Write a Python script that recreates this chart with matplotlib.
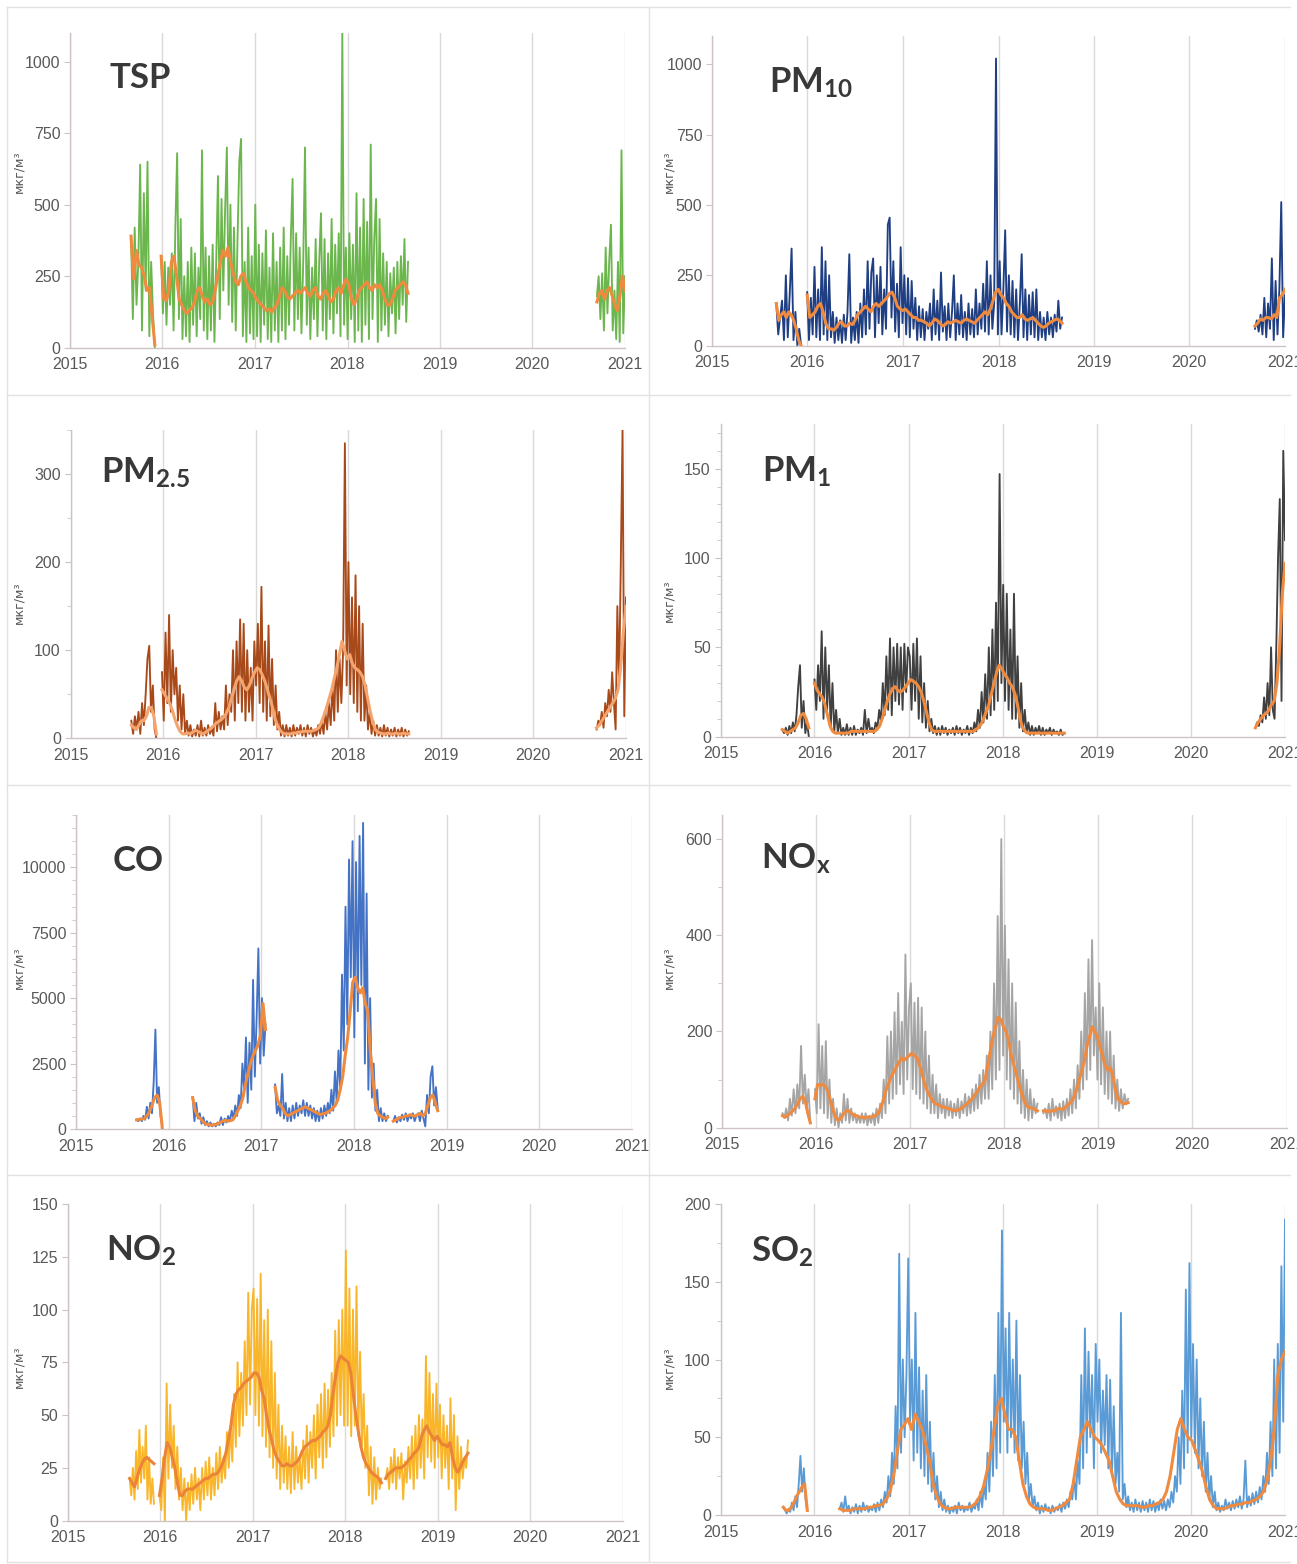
import matplotlib

matplotlib.use("Agg")
import matplotlib.pyplot as plt  # noqa: E402
import matplotlib.dates as mdates  # noqa: E402
import pandas as pd  # noqa: E402
from matplotlib.lines import Line2D  # noqa: E402
from matplotlib.ticker import MultipleLocator, NullLocator  # noqa: E402

W, H = 1297, 1564

# ---------------------------------------------------------------- data
# each series is split in segments (gaps in the record); raw values are
# ~weekly readings, the *_AVG lists the ~10-day moving average (orange)

TSP_DATES = [("2015-08-30", "2015-12-02"), ("2015-12-27", "2018-08-28"),
             ("2020-09-12", "2021-01-01")]
TSP_RAW_1 = [390, 100, 420, 150, 300, 640, 60, 540, 200, 650, 40, 300, 120, 0]
TSP_RAW_2 = [320, 120, 300, 80, 280, 150, 330, 60, 420, 680, 100, 450, 30, 250, 40, 300,
             20, 350, 80, 330, 40, 280, 100, 690, 60, 350, 30, 320, 60, 360, 20, 300, 600,
             100, 520, 200, 480, 700, 150, 500, 90, 420, 60, 380, 650, 730, 40, 300, 20,
             420, 50, 320, 30,
             500, 40, 360, 20, 330, 80, 410, 30, 280, 20, 400, 60, 300, 20, 350, 60, 420,
             30, 320, 80, 380, 590, 60, 400, 100, 350, 50, 300, 700, 80, 350, 30, 280, 100,
             380, 40, 300, 470, 60, 380, 30, 330, 100, 450, 50, 360, 120, 400, 40, 1100, 80,
             350, 30,
             400, 100, 360, 20, 540, 60, 420, 20, 520, 80, 440, 30, 710, 100, 380, 520, 20,
             450, 60, 330, 80, 300, 40, 260, 120, 280, 50, 300, 100, 320, 150, 380, 90, 300]
TSP_RAW_3 = [180, 250, 100, 260, 60, 350, 120, 300, 430, 60, 200, 30, 300, 20, 690, 50, 250]
TSP_AVG_1 = [390, 240, 340, 290, 280, 250, 200, 210, 110, 10]
TSP_AVG_2 = [320, 170, 165, 200, 300, 320, 250, 170, 150, 130, 120, 130, 140, 160, 200, 210,
             180, 160, 170, 150, 160, 200, 250, 300, 340, 320, 350, 300, 260, 230, 220, 250,
             260, 230, 210, 200, 190,
             170, 160, 150, 140, 130, 135, 125, 140, 150, 180, 210, 200, 180, 170, 180, 190,
             200, 190, 200, 210, 190, 180, 200, 210, 180, 170, 190, 200, 180, 160, 170, 200,
             210, 190, 220, 240,
             220, 170, 150, 170, 200, 210, 220, 230, 210, 200, 220, 210, 220, 200, 170, 150,
             150, 170, 200, 210, 220, 230, 220, 190]
TSP_AVG_3 = [160, 190, 200, 170, 200, 210, 180, 150, 130, 180, 250, 200]

PM10_DATES = [("2015-09-04", "2015-12-08"), ("2015-12-31", "2018-09-01"),
              ("2020-09-08", "2021-01-01")]
PM10_RAW_1 = [150, 40, 100, 160, 20, 250, 30, 180, 345, 20, 120, 0, 60, 0]
PM10_RAW_2 = [190, 20, 170, 40, 280, 30, 200, 20, 350, 40, 300, 20, 250, 30, 120, 10, 100, 20,
              90, 10, 110, 20, 120, 325, 10, 100, 20, 120, 10, 150, 30, 200, 40, 300, 60, 260,
              310, 30, 250, 80, 280, 40, 200, 60, 430, 455, 100, 300, 50, 220, 30, 350, 80,
              250, 40, 240, 30, 230, 60, 170, 20, 140, 30, 130, 20, 120, 60, 150, 20, 200, 40,
              160, 20, 260, 50, 140, 20, 150, 30, 120, 250, 20, 150, 40, 180, 30, 120, 20, 150,
              40, 130, 30, 200, 40, 150, 60, 220, 50, 300, 40, 250, 60, 150, 1020, 40,
              300, 40, 200, 410, 50, 250, 40, 230, 30, 200, 20, 150, 325, 30, 200, 20, 180, 40,
              190, 30, 200, 20, 120, 30, 100, 20, 120, 40, 100, 30, 110, 50, 160, 60, 100]
PM10_RAW_3 = [60, 90, 50, 110, 40, 170, 30, 150, 60, 310, 20, 230, 40, 200, 510, 30, 180]
PM10_AVG_1 = [150, 90, 110, 120, 100, 120, 110, 90, 60, 20, 0]
PM10_AVG_2 = [180, 100, 110, 120, 140, 150, 120, 80, 60, 60, 55, 65, 80, 85, 70, 70, 80, 75,
              90, 110, 120, 130, 140, 130, 120, 140, 150, 140, 150, 160, 170, 185, 190, 170,
              140, 130, 125,
              130, 120, 110, 100, 100, 90, 90, 85, 80, 70, 80, 95, 90, 80, 70, 75, 85, 80, 85,
              90, 85, 80, 90, 95, 90, 85, 80, 90, 100, 110, 120, 110, 130, 160, 190, 200,
              180, 170, 150, 140, 120, 110, 100, 100, 110, 95, 90, 95, 100, 90, 80, 70, 65, 70,
              80, 85, 90, 95, 90, 80]
PM10_AVG_3 = [70, 80, 95, 90, 100, 100, 95, 110, 100, 170, 180, 200]

PM25_DATES = [("2015-08-29", "2015-12-06"), ("2015-12-28", "2018-08-28"),
              ("2020-09-07", "2021-01-01")]
PM25_RAW_1 = [20, 5, 25, 10, 30, 5, 40, 15, 50, 90, 105, 30, 60, 10, 0]
PM25_RAW_2 = [75, 20, 120, 40, 140, 30, 100, 50, 80, 20, 60, 10, 50, 5, 20, 3, 15, 2, 10, 3,
              15, 2, 20, 3, 12, 3, 15, 5, 12, 3, 40, 8, 30, 10, 25, 10, 60, 15, 50, 30, 100,
              20, 110, 40, 135, 30, 130, 20, 100, 30, 80, 20, 110,
              60, 130, 40, 172, 30, 110, 20, 128, 25, 90, 15, 60, 10, 30, 3, 15, 2, 15, 3, 12,
              2, 15, 3, 12, 5, 15, 3, 12, 2, 15, 5, 12, 2, 10, 3, 15, 5, 20, 5, 30, 10, 40, 15,
              60, 20, 100, 30, 90, 40, 100, 335, 60,
              200, 50, 160, 40, 185, 30, 150, 20, 130, 20, 60, 10, 30, 5, 20, 3, 15, 3, 12, 2,
              15, 3, 12, 2, 10, 3, 12, 2, 10, 3, 12, 2, 10, 3, 8]
PM25_RAW_3 = [10, 20, 15, 30, 12, 40, 25, 55, 30, 75, 40, 10, 150, 60, 200, 350, 25, 160]
PM25_AVG_1 = [15, 12, 10, 15, 20, 20, 25, 35, 35, 25, 5]
PM25_AVG_2 = [55, 50, 45, 40, 32, 22, 14, 8, 5, 5, 6, 5, 7, 9, 8, 6, 5, 7, 9, 11, 14, 17, 19,
              21, 24, 28, 35, 45, 55, 65, 70, 65, 58, 55, 60, 68, 75,
              80, 78, 72, 65, 55, 45, 35, 22, 14, 9, 6, 5, 5, 5, 6, 6, 7, 7, 8, 8, 8, 8, 9, 10,
              12, 18, 26, 35, 45, 55, 68, 80, 95, 110, 100, 90,
              95, 85, 80, 78, 75, 70, 60, 45, 30, 18, 10, 7, 6, 5, 5, 6, 5, 5, 6, 5, 5, 6, 5, 5]
PM25_AVG_3 = [12, 15, 20, 25, 30, 35, 40, 45, 55, 80, 120, 150]

PM1_DATES = [("2015-08-29", "2015-12-10"), ("2016-01-01", "2018-08-28"),
             ("2020-09-08", "2021-01-01")]
PM1_RAW_1 = [4, 2, 5, 1, 6, 2, 8, 3, 12, 28, 40, 5, 20, 2, 8, 0]
PM1_RAW_2 = [32, 15, 40, 20, 59, 10, 50, 15, 40, 5, 30, 3, 15, 2, 10, 1, 5, 1, 7, 1, 5, 1, 6,
             1, 4, 2, 5, 1, 15, 2, 10, 3, 5, 2, 8, 5, 15, 8, 30, 12, 45, 15, 55, 12, 50, 20,
             52, 18, 50, 15, 52, 25, 50,
             45, 15, 52, 20, 55, 10, 45, 8, 30, 5, 20, 3, 10, 2, 6, 1, 5, 1, 6, 2, 5, 1, 4, 2,
             5, 1, 6, 2, 5, 1, 4, 2, 6, 1, 5, 2, 8, 3, 15, 5, 25, 8, 35, 10, 50, 12, 60, 15,
             75, 20, 147, 30,
             85, 20, 80, 15, 60, 10, 80, 10, 45, 5, 30, 3, 15, 2, 8, 1, 6, 1, 5, 2, 6, 1, 5, 1,
             4, 2, 5, 1, 4, 2, 3, 1, 4, 1, 2]
PM1_RAW_3 = [5, 8, 6, 12, 8, 22, 10, 30, 12, 50, 15, 10, 50, 100, 133, 20, 160, 110]
PM1_AVG_1 = [4, 3, 2, 3, 4, 5, 8, 12, 13, 10, 5]
PM1_AVG_2 = [30, 26, 24, 22, 18, 12, 6, 3, 2, 2, 2, 2, 2, 2, 3, 3, 3, 3, 3, 3, 3, 3, 3, 3, 4,
             6, 10, 15, 20, 24, 27, 28, 26, 25, 26, 28, 30,
             32, 31, 30, 28, 25, 20, 14, 8, 4, 3, 3, 3, 3, 3, 3, 3, 3, 3, 3, 3, 3, 3, 3, 3, 3,
             4, 5, 7, 10, 14, 18, 24, 30, 36, 40, 38,
             35, 33, 30, 28, 24, 18, 10, 5, 3, 2, 2, 2, 2, 2, 2, 2, 2, 2, 2, 2, 2, 2, 2, 2]
PM1_AVG_3 = [5, 8, 10, 12, 13, 15, 18, 20, 30, 50, 80, 97]

CO_DATES = [("2015-08-28", "2015-12-07"), ("2016-04-05", "2017-01-17"),
            ("2017-02-24", "2018-05-14"), ("2018-06-05", "2018-11-27")]
CO_RAW_1 = [350, 300, 400, 300, 500, 350, 850, 400, 1000, 600, 1800, 3800, 1000, 1600, 500, 200]
CO_RAW_2 = [1200, 300, 1000, 400, 600, 200, 450, 150, 300, 100, 250, 100, 200, 100, 250, 150,
            450, 150, 400, 250, 500, 300, 700, 400, 900, 500, 1300, 800, 2500, 1500, 3500, 1000,
            3300, 1500, 5700, 2000, 4200, 6900, 2500, 5000, 2800, 4000]
CO_RAW_3 = [1700, 600, 900, 500, 2100, 400, 1000, 300, 800, 300, 900, 400, 1000, 500, 900, 600,
            1100, 500, 1000, 500, 900, 400, 800, 300, 700, 300, 800, 400, 900, 500, 1000, 600,
            1500, 700, 2200, 1000, 3000, 1500, 5900, 3000, 8500, 4000, 10300, 5800, 11000,
            3500, 10200, 4500, 11200, 5500, 11700, 2500, 9000, 1500, 5000, 1200, 2500, 700,
            1500, 300, 800, 300, 600, 300, 500]
CO_RAW_4 = [300, 500, 250, 450, 300, 550, 350, 600, 300, 550, 400, 600, 300, 500, 600, 300, 700,
            400, 100, 1300, 600, 2000, 2400, 900, 1600, 800]
CO_AVG_1 = [350, 370, 380, 400, 500, 650, 900, 1200, 1300, 1000, 50]
CO_AVG_2 = [1200, 700, 500, 400, 300, 200, 180, 150, 150, 170, 200, 250, 300, 330, 300, 320,
            350, 500, 700, 900, 1200, 1700, 2100, 2500, 2800, 3000, 3200, 3600, 4800, 3800]
CO_AVG_3 = [1600, 1100, 900, 800, 600, 500, 550, 600, 650, 700, 750, 800, 850, 800, 750, 700,
            650, 600, 550, 580, 600, 650, 700, 800, 900, 1100, 1500, 2000, 2800, 3500, 4500,
            5600, 5800, 5400, 5200, 5400, 4800, 4500, 3000, 2000, 1000, 600, 500, 450, 400, 450]
CO_AVG_4 = [300, 350, 400, 450, 450, 500, 500, 550, 500, 500, 550, 600, 500, 600, 900, 1200,
            1300, 1000, 700]

NOX_DATES = [("2015-08-24", "2015-12-10"), ("2015-12-28", "2018-05-10"),
             ("2018-06-02", "2019-04-27")]
NOX_RAW_1 = [30, 20, 40, 15, 60, 25, 80, 30, 90, 40, 170, 50, 110, 40, 80, 10]
NOX_RAW_2 = [80, 30, 215, 40, 170, 30, 180, 20, 100, 10, 60, 5, 40, 0, 30, 10, 70, 15, 60, 10,
             40, 15, 30, 10, 25, 10, 30, 10, 30, 5, 25, 10, 30, 5, 40, 10, 50, 20, 100, 30, 190,
             50, 200, 60, 240, 70, 280, 90, 220, 70, 360, 100, 250,
             300, 80, 260, 70, 270, 60, 250, 50, 200, 40, 150, 30, 110, 30, 90, 20, 70, 30, 60,
             20, 60, 25, 55, 20, 50, 25, 60, 20, 55, 30, 70, 25, 65, 30, 80, 35, 90, 40, 110,
             50, 120, 60, 150, 60, 200, 80, 300, 100, 440, 120, 600, 150,
             420, 100, 350, 80, 300, 60, 260, 50, 180, 30, 120, 20, 100, 15, 80, 20, 60, 30, 50]
NOX_RAW_3 = [30, 40, 20, 50, 15, 60, 25, 45, 20, 50, 15, 55, 20, 60, 25, 80, 30, 100, 40, 130,
             60, 200, 80, 280, 100, 350, 120, 390, 150, 250, 100, 300, 90, 250, 70, 200, 60,
             200, 50, 150, 40, 100, 35, 80, 40, 70, 50, 60]
NOX_AVG_1 = [25, 22, 25, 30, 35, 40, 50, 60, 65, 55, 30, 10]
NOX_AVG_2 = [60, 90, 88, 90, 85, 75, 55, 35, 20, 15, 20, 30, 35, 35, 30, 25, 25, 22, 22, 20,
             22, 22, 23, 25, 30, 40, 55, 75, 90, 105, 115, 125, 135, 145, 140, 145, 150,
             155, 150, 145, 130, 110, 90, 75, 65, 55, 50, 48, 45, 43, 42, 40, 38, 36, 35, 38,
             40, 45, 50, 55, 60, 68, 75, 85, 90, 100, 130, 160, 190, 210, 230, 225, 210,
             200, 180, 150, 130, 110, 90, 70, 55, 45, 42, 40, 38, 35]
NOX_AVG_3 = [35, 35, 33, 35, 35, 38, 40, 38, 40, 45, 50, 55, 65, 80, 100, 120, 140, 170, 190,
             210, 200, 190, 170, 150, 130, 120, 125, 110, 80, 60, 55, 50, 50, 52]

NO2_DATES = [("2015-09-03", "2015-12-08"), ("2015-12-30", "2018-05-24"),
             ("2018-06-10", "2019-05-01")]
NO2_RAW_1 = [20, 12, 25, 10, 33, 15, 43, 18, 35, 20, 45, 10, 30, 8, 20, 8]
NO2_RAW_2 = [12, 5, 30, 0, 65, 20, 55, 25, 45, 15, 35, 10, 25, 5, 20, 0, 18, 5, 22, 8, 25, 10,
             20, 5, 25, 10, 28, 12, 30, 10, 25, 12, 32, 15, 35, 18, 30, 20, 42, 25, 45, 28, 60,
             35, 75, 40, 70, 45, 85, 50, 108, 55, 100,
             110, 50, 105, 45, 117, 40, 95, 35, 100, 30, 85, 25, 70, 20, 55, 15, 45, 18, 40,
             15, 35, 13, 42, 15, 35, 18, 30, 15, 38, 20, 45, 18, 42, 25, 50, 20, 55, 30, 60,
             25, 65, 30, 62, 35, 70, 40, 90, 45, 95, 50, 100, 45,
             128, 45, 110, 40, 100, 45, 111, 40, 80, 35, 60, 25, 45, 12, 35, 8, 30, 10, 25, 15,
             20]
NO2_RAW_3 = [20, 25, 15, 30, 18, 34, 15, 30, 20, 32, 10, 28, 18, 35, 20, 40, 15, 45, 20, 50,
             25, 48, 20, 78, 30, 70, 28, 60, 25, 65, 30, 55, 20, 50, 25, 45, 15, 58, 20, 50, 5,
             40, 15, 35, 20, 30, 25, 38]
NO2_AVG_1 = [20, 18, 16, 20, 24, 27, 29, 30, 29, 28, 27]
NO2_AVG_2 = [12, 20, 30, 37, 35, 30, 25, 18, 12, 12, 14, 15, 15, 15, 16, 17, 18, 19, 20, 20,
             21, 22, 22, 23, 25, 28, 32, 38, 45, 55, 60, 62, 63, 65, 66, 67, 68,
             70, 70, 68, 62, 58, 50, 43, 38, 33, 30, 28, 26, 26, 27, 26, 26, 27, 28, 30, 33,
             35, 36, 37, 38, 38, 39, 40, 42, 43, 45, 50, 60, 68, 75, 78, 77,
             76, 75, 70, 60, 50, 42, 35, 30, 27, 25, 23, 22, 21, 20, 18]
NO2_AVG_3 = [20, 22, 23, 24, 25, 25, 25, 26, 27, 29, 30, 32, 33, 35, 40, 43, 45, 42, 40, 38,
             40, 38, 36, 36, 35, 37, 30, 25, 23, 25, 28, 30, 32]

SO2_DATES = [("2015-09-02", "2015-12-04"), ("2016-04-08", "2021-01-01")]
SO2_RAW_1 = [5, 3, 1, 4, 2, 8, 3, 12, 5, 20, 38, 15, 30, 10, 3]
SO2_RAW_2 = [4, 8, 2, 12, 3, 6, 1, 5, 2, 7, 1, 6, 2, 8, 3, 6, 2, 5, 3, 7, 2, 8, 3, 10, 5, 15,
             8, 25, 12, 40, 20, 70, 30, 168, 40, 100, 50, 90, 165,
             60, 100, 35, 130, 40, 95, 30, 80, 25, 90, 20, 60, 15, 40, 10, 25, 5, 15, 3, 10, 2,
             6, 1, 5, 2, 6, 1, 8, 3, 6, 2, 5, 3, 8, 2, 6, 4, 10, 3, 15, 5, 20, 10, 40, 15, 60,
             25, 90, 30, 130, 40, 183,
             60, 120, 40, 130, 50, 100, 40, 125, 35, 90, 30, 60, 20, 40, 10, 20, 5, 12, 3, 8, 1,
             6, 2, 7, 3, 5, 1, 6, 2, 5, 3, 7, 2, 8, 4, 10, 5, 15, 10, 25, 10, 35, 20, 90, 30,
             120, 40, 105, 50, 90, 30, 110,
             60, 100, 40, 80, 45, 90, 30, 87, 25, 70, 20, 40, 15, 130, 10, 20, 5, 12, 3, 8, 2,
             10, 3, 8, 2, 9, 3, 8, 2, 10, 3, 9, 2, 8, 3, 10, 4, 9, 3, 10, 5, 15, 8, 25, 15, 50,
             20, 80, 30, 145, 40, 162,
             50, 110, 40, 100, 30, 75, 25, 60, 15, 40, 10, 25, 5, 15, 3, 8, 2, 6, 3, 10, 4, 8,
             3, 9, 4, 10, 5, 12, 4, 10, 35, 5, 12, 6, 14, 7, 15, 8, 18, 10, 25, 15, 40, 20, 60,
             25, 100, 30, 110, 40, 160, 60, 190]
SO2_AVG_1 = [5, 3, 3, 5, 8, 12, 15, 18, 20, 3]
SO2_AVG_2 = [4, 3, 3, 3, 4, 4, 4, 4, 5, 5, 6, 6, 7, 10, 15, 25, 40, 55, 58, 62,
             55, 65, 60, 55, 45, 35, 20, 12, 7, 5, 4, 4, 5, 5, 5, 5, 5, 6, 8, 12, 18, 28, 40,
             55, 70, 75,
             65, 55, 55, 50, 35, 20, 12, 7, 5, 4, 4, 4, 3, 3, 4, 5, 6, 8, 10, 20, 35, 50, 55,
             60, 55, 50,
             48, 45, 40, 35, 25, 15, 10, 7, 6, 6, 6, 6, 5, 5, 6, 6, 7, 8, 10, 15, 25, 40, 55,
             62, 55, 50,
             48, 42, 35, 28, 18, 10, 6, 4, 4, 4, 5, 6, 6, 7, 7, 8, 8, 9, 10, 12, 15, 22, 35,
             55, 90, 100, 105]

# ---------------------------------------------------------------- style
GRID = "#d9d9d9"
SPINE = "#cdc3c3"
TICKC = "#595959"
TITLEC = "#383838"
ORANGE = "#ef8a3f"

plt.rcParams["font.family"] = ["Liberation Sans Narrow", "Liberation Sans", "DejaVu Sans"]
plt.rcParams["mathtext.fontset"] = "custom"
plt.rcParams["mathtext.bf"] = "Lato:bold"
plt.rcParams["mathtext.rm"] = "Lato"
plt.rcParams["mathtext.it"] = "Lato:italic"

# panel layout in pixels: (x of 2015, x of 2021, y of zero, y of top)
PANELS = [
    dict(box=(70, 625, 347.7, 33), ymax=1100, major=250, minor=None,
         segs=list(zip(TSP_DATES, [TSP_RAW_1, TSP_RAW_2, TSP_RAW_3],
                       [TSP_AVG_1, TSP_AVG_2, TSP_AVG_3])),
         raw="#6cb64e", avg=ORANGE, title="TSP", txy=(110, 88), lab=(19, 172)),
    dict(box=(712, 1285, 345.7, 36), ymax=1100, major=250, minor=None,
         segs=list(zip(PM10_DATES, [PM10_RAW_1, PM10_RAW_2, PM10_RAW_3],
                       [PM10_AVG_1, PM10_AVG_2, PM10_AVG_3])),
         raw="#203f83", avg=ORANGE, title=r"$\mathbf{PM_{10}}$", txy=(769, 93), lab=(669, 172)),
    dict(box=(70.5, 626, 738.3, 430), ymax=350, major=100, minor=50,
         segs=list(zip(PM25_DATES, [PM25_RAW_1, PM25_RAW_2, PM25_RAW_3],
                       [PM25_AVG_1, PM25_AVG_2, PM25_AVG_3])),
         raw="#a8491a", avg="#f4a46c", title=r"$\mathbf{PM_{2.5}}$", txy=(101, 483),
         lab=(19, 603)),
    dict(box=(720.5, 1285, 736.7, 424), ymax=175, major=50, minor=10,
         segs=list(zip(PM1_DATES, [PM1_RAW_1, PM1_RAW_2, PM1_RAW_3],
                       [PM1_AVG_1, PM1_AVG_2, PM1_AVG_3])),
         raw="#404040", avg=ORANGE, title=r"$\mathbf{PM_{1}}$", txy=(762, 482), lab=(669, 601)),
    dict(box=(76, 632, 1129, 815), ymax=12000, major=2500, minor=500,
         segs=list(zip(CO_DATES, [CO_RAW_1, CO_RAW_2, CO_RAW_3, CO_RAW_4],
                       [CO_AVG_1, CO_AVG_2, CO_AVG_3, CO_AVG_4])),
         raw="#4472c4", avg=ORANGE, title="CO", txy=(113, 871), lab=(19, 968)),
    dict(box=(722, 1286.5, 1127.7, 815), ymax=650, major=200, minor=100,
         segs=list(zip(NOX_DATES, [NOX_RAW_1, NOX_RAW_2, NOX_RAW_3],
                       [NOX_AVG_1, NOX_AVG_2, NOX_AVG_3])),
         raw="#a5a5a5", avg=ORANGE, title=r"$\mathbf{NO_{x}}$", txy=(761, 869), lab=(669, 968)),
    dict(box=(67.6, 622.7, 1520.7, 1204), ymax=150, major=25, minor=None,
         segs=list(zip(NO2_DATES, [NO2_RAW_1, NO2_RAW_2, NO2_RAW_3],
                       [NO2_AVG_1, NO2_AVG_2, NO2_AVG_3])),
         raw="#f9b62a", avg="#ec8438", title=r"$\mathbf{NO_{2}}$", txy=(106, 1261),
         lab=(19, 1367)),
    dict(box=(720.5, 1285, 1515, 1204), ymax=200, major=50, minor=25,
         segs=list(zip(SO2_DATES, [SO2_RAW_1, SO2_RAW_2], [SO2_AVG_1, SO2_AVG_2])),
         raw="#5b9bd5", avg=ORANGE, title=r"$\mathbf{SO_{2}}$", txy=(751, 1262), lab=(669, 1368)),
]


def draw_panel(fig, p):
    x0, x1, yb, yt = p["box"]
    ax = fig.add_axes([x0 / W, 1 - yb / H, (x1 - x0) / W, (yb - yt) / H])
    for (start, end), raw, avg in p["segs"]:
        ax.plot(pd.date_range(start, end, periods=len(raw)), raw,
                color=p["raw"], lw=1.35, zorder=2)
    for (start, end), raw, avg in p["segs"]:
        ax.plot(pd.date_range(start, end, periods=len(avg)), avg,
                color=p["avg"], lw=2.2, zorder=3, solid_joinstyle="round")
    ax.set_xlim(pd.Timestamp("2015-01-01"), pd.Timestamp("2021-01-01"))
    ax.set_ylim(0, p["ymax"])
    ax.xaxis.set_major_locator(mdates.YearLocator(1))
    ax.xaxis.set_major_formatter(mdates.DateFormatter("%Y"))
    ax.yaxis.set_major_locator(MultipleLocator(p["major"]))
    if p["minor"]:
        ax.yaxis.set_minor_locator(MultipleLocator(p["minor"]))
    else:
        ax.yaxis.set_minor_locator(NullLocator())
    ax.grid(axis="x", color=GRID, lw=1.0, zorder=0)
    for s in ("top", "right"):
        ax.spines[s].set_visible(False)
    for s in ("left", "bottom"):
        ax.spines[s].set_color(SPINE)
        ax.spines[s].set_linewidth(1.0)
    ax.tick_params(axis="x", length=0, pad=7, labelsize=11.5, labelcolor=TICKC)
    ax.tick_params(axis="y", which="major", length=4, width=0.8, color=SPINE, pad=3,
                   labelsize=11.5, labelcolor=TICKC)
    ax.tick_params(axis="y", which="minor", length=3, width=0.6, color=SPINE)
    ax.set_facecolor("none")
    fig.text(p["txy"][0] / W, 1 - p["txy"][1] / H, p["title"], fontsize=25,
             fontweight="bold", family="Lato", color=TITLEC, ha="left", va="baseline")
    fig.text(p["lab"][0] / W, 1 - p["lab"][1] / H, "мкг/м³", fontsize=9, rotation=90,
             color="#555555", ha="center", va="center", family="DejaVu Sans")
    return ax


fig = plt.figure(figsize=(W / 100, H / 100), dpi=100)

# light frames between the panels
for y in (7, 395, 785, 1175, 1562):
    fig.add_artist(Line2D([7 / W, 1290 / W], [1 - y / H, 1 - y / H], color="#e2e2e2", lw=1.0))
for x in (7, 649):
    fig.add_artist(Line2D([x / W, x / W], [1 - 7 / H, 1 - 1562 / H], color="#e2e2e2", lw=1.0))

for p in PANELS:
    draw_panel(fig, p)

fig.savefig("out.png", dpi=100)
